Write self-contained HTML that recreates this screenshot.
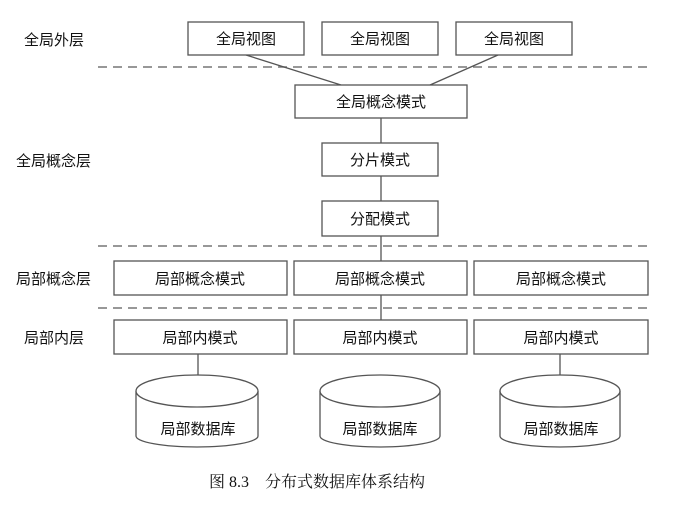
<!DOCTYPE html>
<html><head><meta charset="utf-8"><style>
body{margin:0;background:#fff;}
svg text{font-family:"Liberation Sans","Noto Sans CJK SC",sans-serif;font-size:15px;fill:#111;}
</style></head><body>
<svg width="680" height="501" viewBox="0 0 680 501" xmlns="http://www.w3.org/2000/svg">
<g stroke="#555" stroke-width="1.3" fill="none">
<line x1="98" y1="67" x2="652" y2="67" stroke-dasharray="9,6" stroke="#777" stroke-width="1.5"/>
<line x1="98" y1="246" x2="652" y2="246" stroke-dasharray="9,6" stroke="#777" stroke-width="1.5"/>
<line x1="98" y1="308" x2="652" y2="308" stroke-dasharray="9,6" stroke="#777" stroke-width="1.5"/>
<line x1="246" y1="55" x2="341" y2="85"/>
<line x1="498" y1="55" x2="430" y2="85"/>
<line x1="381" y1="118" x2="381" y2="320"/>
<line x1="198" y1="353" x2="198" y2="375"/>
<line x1="560" y1="353" x2="560" y2="375"/>
<rect x="188" y="22" width="116" height="33" fill="#fff"/>
<rect x="322" y="22" width="116" height="33" fill="#fff"/>
<rect x="456" y="22" width="116" height="33" fill="#fff"/>
<rect x="295" y="85" width="172" height="33" fill="#fff"/>
<rect x="322" y="143" width="116" height="33" fill="#fff"/>
<rect x="322" y="201" width="116" height="35" fill="#fff"/>
<rect x="114" y="261" width="173" height="34" fill="#fff"/>
<rect x="294" y="261" width="173" height="34" fill="#fff"/>
<rect x="474" y="261" width="174" height="34" fill="#fff"/>
<rect x="114" y="320" width="173" height="34" fill="#fff"/>
<rect x="294" y="320" width="173" height="34" fill="#fff"/>
<rect x="474" y="320" width="174" height="34" fill="#fff"/>
<g id="c">
<path d="M136 391 L136 436 A61 11 0 0 0 258 436 L258 391" fill="#fff"/>
<ellipse cx="197" cy="391" rx="61" ry="16" fill="#fff"/>
</g>
<path d="M320 391 L320 436 A60 11 0 0 0 440 436 L440 391" fill="#fff"/>
<ellipse cx="380" cy="391" rx="60" ry="16" fill="#fff"/>
<path d="M500 391 L500 436 A60 11 0 0 0 620 436 L620 391" fill="#fff"/>
<ellipse cx="560" cy="391" rx="60" ry="16" fill="#fff"/>
</g>
<g text-anchor="middle">
<text x="246" y="44">全局视图</text>
<text x="380" y="44">全局视图</text>
<text x="514" y="44">全局视图</text>
<text x="381" y="107">全局概念模式</text>
<text x="380" y="165">分片模式</text>
<text x="380" y="224">分配模式</text>
<text x="200" y="284">局部概念模式</text>
<text x="380" y="284">局部概念模式</text>
<text x="561" y="284">局部概念模式</text>
<text x="200" y="343">局部内模式</text>
<text x="380" y="343">局部内模式</text>
<text x="561" y="343">局部内模式</text>
<text x="198" y="434">局部数据库</text>
<text x="380" y="434">局部数据库</text>
<text x="561" y="434">局部数据库</text>
</g>
<text x="24" y="45">全局外层</text>
<text x="16" y="166">全局概念层</text>
<text x="16" y="284">局部概念层</text>
<text x="24" y="343">局部内层</text>
<text x="209" y="487" style="font-family:'Liberation Serif','Noto Serif CJK SC',serif;font-size:16px;">图 8.3　分布式数据库体系结构</text>
</svg>
</body></html>
